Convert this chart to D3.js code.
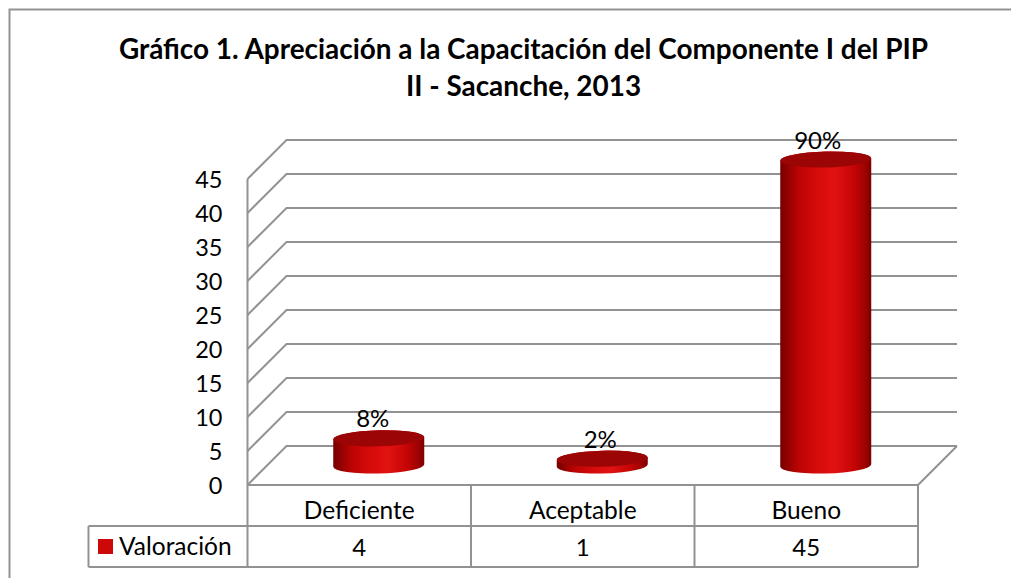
<!DOCTYPE html>
<html><head><meta charset="utf-8">
<script src="https://cdnjs.cloudflare.com/ajax/libs/d3/7.8.5/d3.min.js"></script>
<style>html,body{margin:0;padding:0;background:#fff}svg{display:block}text{font-family:Lato,"Liberation Sans",sans-serif;fill:#000}</style>
</head><body><svg id="c" width="1011" height="578"></svg>
<script>
const titleLines = ["Gráfico 1. Apreciación a la Capacitación del Componente I del PIP", "II - Sacanche, 2013"];
const categories = ["Deficiente", "Aceptable", "Bueno"];
const values = [4, 1, 45];
const percentLabels = ["8%", "2%", "90%"];
const labelShift = [-6, -2, -8];
const tickValues = [0, 5, 10, 15, 20, 25, 30, 35, 40, 45];
const seriesName = "Valoración";

const svg = d3.select("#c");
const stroke = "#929292";
const fl = {x0: 247.5, x1: 918, y: 485}, depth = {dx: 39, dy: -39};
const x = d3.scaleBand().domain(categories).range([fl.x0, fl.x1]);
const y = d3.scaleLinear().domain([0, 45]).range([fl.y, 179]);

// frame
svg.append("path").attr("d", "M9.5,578V9.5H1011").attr("fill", "none").attr("stroke", stroke).attr("stroke-width", 2);

// title
svg.append("g").selectAll("text").data(titleLines).join("text")
  .attr("x", 523.5).attr("y", (d, i) => 58.5 + i * 37).attr("text-anchor", "middle")
  .attr("font-size", 27.9).attr("font-weight", 700).text(d => d);

// gridlines: side wall + back wall
const line = d3.line();
const grid = svg.append("g").attr("fill", "none").attr("stroke", stroke).attr("stroke-width", 2);
grid.selectAll("path").data(tickValues).join("path").attr("d", v => line([
  [fl.x0, y(v)], [fl.x0 + depth.dx, y(v) + depth.dy], [fl.x1 + depth.dx, y(v) + depth.dy]
]));
// vertical axis + floor right edge
grid.append("path").attr("d", line([[fl.x0, y(45)], [fl.x0, 567]]));
grid.append("path").attr("d", line([[fl.x1, fl.y], [fl.x1 + depth.dx, fl.y + depth.dy]]));

// y tick labels
svg.append("g").selectAll("text").data(tickValues).join("text")
  .attr("x", 222.5).attr("y", v => y(v) + 9).attr("text-anchor", "end").attr("font-size", 23.5).text(d => d);

// data table
const rowY = [485, 526, 567], legendX = 88.5;
const table = svg.append("g").attr("fill", "none").attr("stroke", stroke).attr("stroke-width", 2);
table.append("path").attr("d", line([[fl.x0, rowY[0]], [fl.x1, rowY[0]]]));
table.append("path").attr("d", line([[legendX, rowY[1]], [fl.x1, rowY[1]]]));
table.append("path").attr("d", line([[legendX, rowY[2]], [fl.x1, rowY[2]]]));
table.append("path").attr("d", line([[legendX, rowY[1]], [legendX, rowY[2]]]));
table.selectAll(".v").data(categories).join("path").attr("class", "v")
  .attr("d", c => line([[x(c) + x.bandwidth(), rowY[0]], [x(c) + x.bandwidth(), rowY[2]]]));

svg.append("g").selectAll("text").data(categories).join("text")
  .attr("x", c => x(c) + x.bandwidth() / 2).attr("y", 518.5).attr("text-anchor", "middle").attr("font-size", 24.5).text(d => d);
svg.append("g").selectAll("text").data(values).join("text")
  .attr("x", (d, i) => x(categories[i]) + x.bandwidth() / 2).attr("y", 556).attr("text-anchor", "middle").attr("font-size", 24).text(d => d);
svg.append("rect").attr("x", 98).attr("y", 539).attr("width", 15).attr("height", 15).attr("fill", "#cc0808");
svg.append("text").attr("x", 119).attr("y", 555).attr("font-size", 24.5).text(seriesName);

// cylinders
const defs = svg.append("defs");
const grad = defs.append("linearGradient").attr("id", "cyl").attr("x1", 0).attr("x2", 1).attr("y1", 0).attr("y2", 0);
[[0, "#750000"], [0.2, "#bb0303"], [0.38, "#d40a0a"], [0.6, "#e21212"], [0.8, "#c60505"], [0.93, "#a00303"], [1, "#7a0000"]]
  .forEach(s => grad.append("stop").attr("offset", s[0]).attr("stop-color", s[1]));

const rx = 45.5, ry = 8, tilt = -1.5;
const base = v => y(v) + depth.dy / 2;
const cx = c => x(c) + x.bandwidth() / 2 + depth.dx / 2;
const bars = svg.append("g").selectAll("g").data(categories).join("g");
bars.append("path").attr("fill", "url(#cyl)").attr("d", (c, i) => {
  const top = base(values[i]), bot = base(0), a = cx(c);
  const s = rx * Math.tan(tilt * Math.PI / 180);
  return `M${a - rx},${top - s}A${rx},${ry} ${tilt} 0 1 ${a + rx},${top + s}` +
         `V${bot + s}A${rx},${ry} ${tilt} 0 1 ${a - rx},${bot - s}Z`;
});
bars.append("ellipse").attr("fill", "#9b0505")
  .attr("cx", 0).attr("cy", 0).attr("rx", rx).attr("ry", ry)
  .attr("transform", (c, i) => `translate(${cx(c)},${base(values[i])}) rotate(${tilt})`);
bars.append("text").attr("x", (c, i) => cx(c) + labelShift[i]).attr("y", (c, i) => base(values[i]) - 11)
  .attr("text-anchor", "middle").attr("font-size", 24).text((c, i) => percentLabels[i]);
</script></body></html>
